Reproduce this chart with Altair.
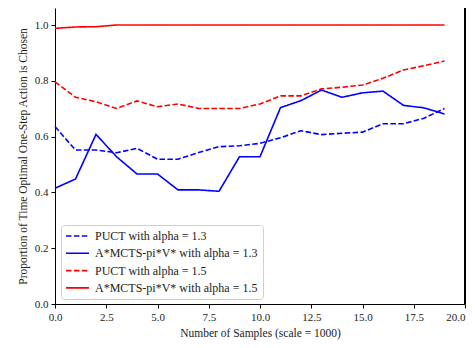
import altair as alt
import pandas as pd

x_vals = list(range(20))
puct_13 = [0.636, 0.552, 0.552, 0.542, 0.558, 0.519, 0.519, 0.543, 0.564, 0.567,
           0.576, 0.596, 0.621, 0.607, 0.612, 0.616, 0.646, 0.646, 0.666, 0.701]
astar_13 = [0.415, 0.448, 0.608, 0.528, 0.466, 0.466, 0.409, 0.409, 0.404, 0.528,
            0.528, 0.704, 0.729, 0.767, 0.741, 0.757, 0.763, 0.712, 0.703, 0.681]
puct_15 = [0.796, 0.741, 0.725, 0.701, 0.728, 0.707, 0.717, 0.701, 0.701, 0.701,
           0.717, 0.746, 0.746, 0.771, 0.777, 0.785, 0.809, 0.839, 0.854, 0.871]
astar_15 = [0.988, 0.993, 0.994, 1.0, 1.0, 1.0, 1.0, 1.0, 1.0, 1.0,
            1.0, 1.0, 1.0, 1.0, 1.0, 1.0, 1.0, 1.0, 1.0, 1.0]

series_names = ["PUCT with alpha = 1.3", "A*MCTS-pi*V* with alpha = 1.3",
                "PUCT with alpha = 1.5", "A*MCTS-pi*V* with alpha = 1.5"]
series_vals = [puct_13, astar_13, puct_15, astar_15]
colors = ["#0000ff", "#0000ff", "#ff0000", "#ff0000"]
dashes = [[5.5, 2.4], [1, 0], [5.5, 2.4], [1, 0]]

rows = []
for i, (name, vals) in enumerate(zip(series_names, series_vals)):
    for x, v in zip(x_vals, vals):
        rows.append({"x": x, "y": v, "series": name, "ord": i})
df = pd.DataFrame(rows)

FONT = "Liberation Serif"

lines = alt.Chart(df).mark_line(strokeWidth=1.6).encode(
    x=alt.X("x:Q", scale=alt.Scale(domain=[0, 20], nice=False, zero=False),
            axis=alt.Axis(title="Number of Samples (scale = 1000)",
                          values=[0, 2.5, 5, 7.5, 10, 12.5, 15, 17.5, 20],
                          format=".1f", grid=False, tickSize=4, labelPadding=3,
                          titlePadding=5, labelFlush=False, labelOverlap=False,
                          labelAlign=alt.expr("datum.value >= 20 ? 'right' : 'center'"))),
    y=alt.Y("y:Q", scale=alt.Scale(domain=[0, 1.061], nice=False),
            axis=alt.Axis(title="Proportion of Time Optimal One-Step Action is Chosen",
                          values=[0, 0.2, 0.4, 0.6, 0.8, 1.0], format=".1f",
                          grid=False, tickSize=4, labelPadding=3, titlePadding=6,
                          labelFlush=False)),
    color=alt.Color("series:N", scale=alt.Scale(domain=series_names, range=colors),
                    legend=alt.Legend(title=None, orient="none", legendX=6, legendY=217,
                                      symbolType="M-1.2,0H3.4", symbolSize=100,
                                      symbolStrokeWidth=1.6, labelOffset=17,
                                      rowPadding=5.3, padding=5, labelLimit=400,
                                      fillColor="white", strokeColor="#d0d0d0",
                                      cornerRadius=3, labelFontSize=12, labelFont=FONT,
                                      labelColor="#222")),
    strokeDash=alt.StrokeDash("series:N", scale=alt.Scale(domain=series_names, range=dashes),
                              legend=alt.Legend(title=None, orient="none", legendX=6, legendY=217,
                                                labelLimit=400)),
    order="ord:Q",
    detail="series:N",
)

spine = alt.Chart(df).mark_rule(color="black", strokeWidth=1).encode(
    x=alt.value(410), y=alt.value(0), y2=alt.value(296)
)

chart = alt.layer(lines, spine).properties(
    width=410, height=296,
    autosize=alt.AutoSizeParams(type="none"),
    padding={"left": 47, "top": 0, "right": 2, "bottom": 36},
    background="white",
).configure_view(strokeWidth=0).configure_axis(
    domainColor="black", tickColor="black", domainWidth=1, tickWidth=1,
    labelFont=FONT, titleFont=FONT, labelFontSize=11, titleFontSize=11.5,
    labelColor="#222", titleColor="#222", titleFontWeight="normal",
).configure_legend(labelLimit=400)

chart.save("out.html", embed_options={"renderer": "svg", "actions": False})
